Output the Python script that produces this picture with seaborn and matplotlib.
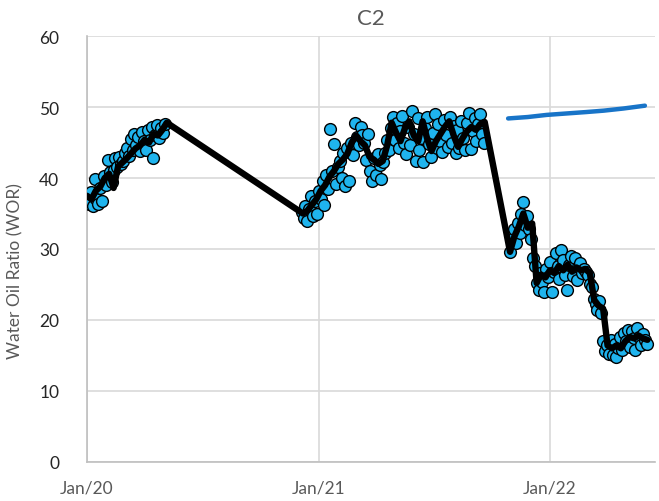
import numpy as np
import pandas as pd
import matplotlib
matplotlib.use("Agg")
import matplotlib.pyplot as plt
import matplotlib.dates as mdates
import seaborn as sns

# ---- measured WOR samples (every 3 days) ----
wor_2020_start = "2020-01-01"
wor_2020 = [37.2, 36.4, 38.0, 36.0, 39.8, 37.0, 36.3, 38.6, 36.8, 40.3,
            39.0, 42.5, 40.8, 39.4, 41.2, 42.8, 41.5, 43.0, 42.0, 42.4,
            43.6, 44.2, 43.1, 45.5, 44.0, 46.2, 44.6, 45.8, 43.8, 46.5,
            45.2, 44.0, 46.8, 45.4, 47.2, 42.8, 46.0, 47.5, 45.6, 47.0,
            46.4, 47.6]

wor_2021_start = "2020-12-05"
wor_2021 = [35.2, 34.4, 36.0, 34.0, 35.6, 37.4, 34.6, 36.8, 35.0, 38.2,
            37.0, 39.6, 36.2, 40.4, 38.4, 46.9, 41.0, 44.8, 39.2, 41.6,
            42.4, 40.0, 43.6, 38.9, 44.2, 39.6, 45.0, 43.2, 47.8,
            45.8, 44.6, 47.2, 46.0, 45.0, 42.6, 46.2, 41.0, 39.6, 42.8,
            40.4, 43.4, 41.8, 39.8, 42.2, 43.6, 45.4, 44.0, 47.0, 48.6,
            45.4, 47.8, 44.2, 46.6, 48.8, 45.0, 43.4, 47.2, 44.6, 49.4,
            46.2, 42.4, 48.4, 44.0, 45.6, 42.2, 47.0, 48.6, 44.8, 43.0,
            46.4, 49.0, 44.2, 47.6, 45.2, 43.7, 48.2, 46.0, 44.4, 48.6,
            45.0, 47.4, 43.6, 46.8, 44.2, 48.0, 45.6, 44.0, 47.8, 49.2,
            44.1, 46.6, 48.4, 45.2, 47.6, 49.0, 46.2, 45.0]

wor_2022_start = "2021-10-30"
wor_2022 = [29.6, 31.4, 32.8, 30.8,
            33.6, 32.2, 35.0, 36.6, 33.4, 34.6, 32.8,
            31.4, 28.8, 27.6, 25.2, 24.2, 26.6, 25.4, 23.9, 27.2, 26.0,
            28.2, 24.0, 26.8, 29.4, 27.6, 25.8, 29.8, 28.4, 26.4, 24.2,
            27.8, 29.0, 26.2, 28.8, 25.6, 27.4, 28.0, 26.6, 27.2, 26.8,
            26.4, 25.0, 24.6, 23.0, 22.2, 21.4, 22.6, 21.0, 17.0, 15.6,
            16.4, 15.2, 17.2, 15.0, 16.6, 14.8, 16.0, 17.6, 15.8, 18.2,
            17.0, 18.6, 16.2, 18.4, 17.4, 15.8, 18.8, 17.6, 16.4, 18.0,
            17.2, 16.6]

# ---- weekly trend of WOR ----
trend_2020_start = "2020-01-01"
trend_2020 = [37.5, 37.0, 38.2, 38.8, 40.0, 40.6, 38.6, 41.6, 42.2, 42.8,
              43.5, 44.2, 44.6, 45.4, 45.0, 46.2, 46.0, 46.8, 47.8]

trend_2021_start = "2020-12-07"
trend_2021 = [35.0, 35.4, 36.2, 37.0, 38.2, 39.0, 40.2, 41.0, 42.0, 42.6,
              43.4, 45.0, 46.0, 45.2, 44.6, 43.0, 42.6, 42.0, 42.4, 44.6,
              47.8, 46.4, 45.2, 47.0, 48.0, 46.0, 45.2, 48.0, 45.6, 43.8,
              45.2, 46.2, 47.2, 48.0, 46.0, 44.4, 45.6, 46.6, 47.2, 46.8,
              47.6, 47.9]

trend_2022_start = "2021-10-30"
trend_2022 = [29.6, 31.8, 33.2, 35.0, 33.0, 33.6, 25.2, 26.4, 26.0, 27.0,
              26.6, 27.6, 27.0, 27.8, 26.8, 27.4, 27.0, 27.2, 26.6, 22.8,
              22.0, 21.6, 16.4, 16.0, 16.4, 16.0, 17.0, 17.6, 17.4, 17.8,
              17.4, 17.2]

# ---- forecast line ----
forecast_dates = ["2021-10-27", "2021-11-27", "2021-12-27", "2022-01-27",
                  "2022-02-27", "2022-03-27", "2022-04-27", "2022-05-31"]
forecast_wor = [48.4, 48.6, 48.9, 49.1, 49.3, 49.5, 49.8, 50.2]

y_ticks = [0, 10, 20, 30, 40, 50, 60]
x_ticks = ["2020-01-01", "2021-01-01", "2022-01-01"]


def series(start, values, step):
    return pd.DataFrame({"date": pd.date_range(start, periods=len(values), freq=step),
                         "wor": values})


samples = pd.concat([series(wor_2020_start, wor_2020, "3D"),
                     series(wor_2021_start, wor_2021, "3D"),
                     series(wor_2022_start, wor_2022, "3D")], ignore_index=True)
trend = pd.concat([series(trend_2020_start, trend_2020, "7D"),
                   series(trend_2021_start, trend_2021, "7D"),
                   series(trend_2022_start, trend_2022, "7D")], ignore_index=True)
forecast = pd.DataFrame({"date": pd.to_datetime(forecast_dates), "wor": forecast_wor})

sns.set_theme(style="white")
plt.rcParams["font.family"] = ["Lato", "DejaVu Sans"]
text_grey = "#595959"

fig = plt.figure(figsize=(6.59, 5.02), dpi=100)
ax = fig.add_axes([0.132, 0.078, 0.862, 0.848])

sns.scatterplot(data=samples, x="date", y="wor", ax=ax, s=72,
                color="#1FB4EE", edgecolor="black", linewidth=1.0, zorder=3)
sns.lineplot(data=trend, x="date", y="wor", ax=ax, color="black",
             linewidth=4.6, estimator=None, zorder=4)
sns.lineplot(data=forecast, x="date", y="wor", ax=ax, color="#1874C8",
             linewidth=3.2, estimator=None, zorder=4)

ax.set_ylim(0, 60)
ax.set_yticks(y_ticks)
ax.set_xlim(pd.Timestamp("2020-01-01"), pd.Timestamp("2022-06-16"))
ax.set_xticks(pd.to_datetime(x_ticks))
ax.xaxis.set_major_formatter(mdates.DateFormatter("%b/%y"))

ax.grid(True, color="#d9d9d9", linewidth=1.2)
ax.set_axisbelow(True)
for side in ["top", "right"]:
    ax.spines[side].set_visible(False)
for side in ["left", "bottom"]:
    ax.spines[side].set_color("#bfbfbf")
    ax.spines[side].set_linewidth(1.2)

ax.tick_params(axis="both", colors=text_grey, labelsize=12.5, length=0)
ax.tick_params(axis="x", pad=13)
ax.tick_params(axis="y", labelcolor="#262626", pad=20)
ax.set_xlabel("")
ax.set_ylabel("Water Oil Ratio (WOR)", color=text_grey, fontsize=12.5)
ax.yaxis.set_label_coords(-0.112, 0.45)
ax.set_title("C2", color=text_grey, fontsize=16, pad=9)

fig.savefig("out.png", dpi=100)
